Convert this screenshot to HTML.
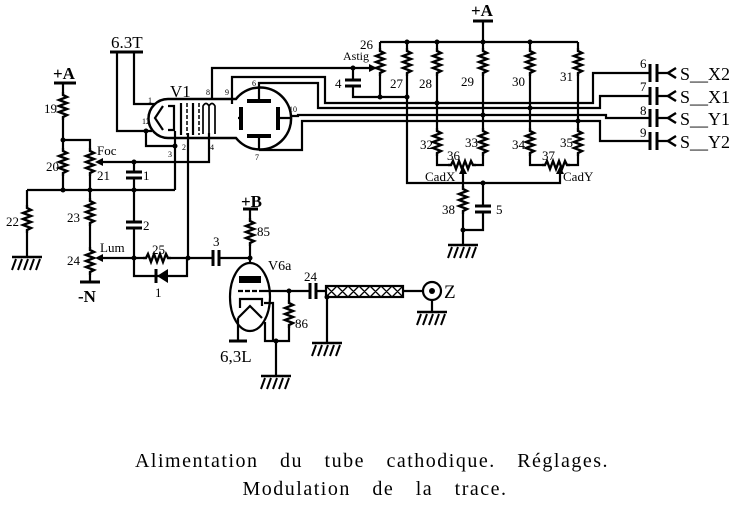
<!DOCTYPE html>
<html><head><meta charset="utf-8"><style>
html,body{margin:0;padding:0;background:#fff;}
svg{display:block;}
text{font-family:"Liberation Serif",serif;fill:#000;}
.l{font-size:13px;}
</style></head><body>
<svg width="740" height="508" viewBox="0 0 740 508" xmlns="http://www.w3.org/2000/svg">
<defs>
<path id="rv" d="M0,0 l0,3 l4,2 l-8,3 l8,3 l-8,3 l8,3 l-8,3 l8,3 l-4,2 l0,3" fill="none" stroke="#000" stroke-width="2.4"/>
<g id="gnd" stroke="#000" stroke-width="2" fill="none"><path d="M-15,0 H15" stroke-width="2.5"/><path d="M-11,2 l-4,11 M-5,2 l-4,11 M1,2 l-4,11 M7,2 l-4,11 M13,2 l-4,11"/></g>
<path id="au" d="M0,0 l-4,8 h8 z" fill="#000"/>
</defs>
<g stroke="#000" stroke-width="2.2" fill="none">
<path d="M110,52 H143" stroke-width="3"/>
<path d="M117,52 V131 H152 M134,52 V104 H155"/>
<path d="M146,131 V146 H175 M175,131 V190 M188,133 V258 M209,133 V162 H98"/>
<path d="M54,83 H76" stroke-width="3"/>
<path d="M63,83 V92 M63,120 V148 M63,176 V190 M63,140 H90 V148 M90,176 V198 M90,226 V247 M90,275 V282"/>
<path d="M80,282 H100" stroke-width="3"/>
<path d="M27,190 H175 M27,190 V205 M27,233 V257"/>
<path d="M134,162 V172 M134,178 V222 M134,228 V258 H143 M171,258 H213 M219,258 H250 M134,258 H98"/>
<path d="M126,172 H142 M126,178 H142 M126,222 H142 M126,228 H142 M213,250 V266 M219,250 V266" stroke-width="3"/>
<path d="M134,258 V276 H187 V258"/>
<path d="M156,269 V283" stroke-width="3"/>
<path d="M243,209 H258" stroke-width="3"/>
<path d="M250,209 V218 M250,246 V263"/>
<ellipse cx="250" cy="297" rx="20" ry="34"/>
<path d="M238,291 H262" stroke-dasharray="5,2"/>
<path d="M262,291 H310 M240,308 V299 H262 V306 M238,318 L250,306 L262,318 M238,318 V341 M264,303 H273 V341 M265,322 V341 H289 V328 M289,291 V300 M276,341 V376"/>
<path d="M229,341 H247" stroke-width="3"/>
<path d="M310,283 V299 M316,283 V299" stroke-width="3"/>
<path d="M316,291 H326 M327,297 V343 M403,291 H423 M432,300 V312"/>
<rect x="326" y="286" width="77" height="11" stroke-width="2.2"/>
<path d="M326,286 l11,11 m0,-11 l-11,11 M337,286 l11,11 m0,-11 l-11,11 M348,286 l11,11 m0,-11 l-11,11 M359,286 l11,11 m0,-11 l-11,11 M370,286 l11,11 m0,-11 l-11,11 M381,286 l11,11 m0,-11 l-11,11 M392,286 l11,11 m0,-11 l-11,11" stroke-width="1.3"/>
<circle cx="432" cy="291" r="9"/>
<path d="M168,99 H236 A31,31 0 1 1 236,138 H168 A19.5,19.5 0 0 1 168,99 Z" stroke-width="2.5"/>
<path d="M163,106 L155,118 L163,130 M168,106 H174 V130 H168"/>
<path d="M181,103 V135 M193,103 V135"/>
<path d="M187,103 V135 M199,103 V135" stroke-dasharray="4,2" stroke-width="1.5"/>
<path d="M203,134 V106 Q206,101 209,106 V134 M209,106 Q212,101 215,106 V134" stroke-width="1.7"/>
<path d="M247,101 H271 M247,136 H271" stroke-width="4"/>
<path d="M241,107 V130 M278,107 V130" stroke-width="4"/>
<path d="M259,101 V88 M259,136 V150 M242,118 H238 M278,118 H290"/>
<path d="M212,99 V68 H376 M353,68 V80 M353,86 V97 H407"/>
<path d="M345,80 H361 M345,86 H361" stroke-width="3"/>
<path d="M232,104 V77 H325 V103 H593 V73 H650"/>
<path d="M259,88 V83 H318 V108 H600 V96 H650"/>
<path d="M290,116 H298 V115 H606 V118 H650"/>
<path d="M259,150 H302 V121 H600 V141 H650"/>
<path d="M473,21 H493" stroke-width="3"/>
<path d="M483,21 V42 M380,42 H578"/>
<path d="M380,42 V48 M380,76 V97"/>
<path d="M407,42 V48 M407,76 V183 H560 V170"/>
<path d="M437,42 V48 M437,76 V128 M437,156 V165 H448 M476,165 H483 V156 M483,42 V48 M483,76 V128"/>
<path d="M530,42 V48 M530,76 V128 M530,156 V165 H542 M570,165 H578 V156 M578,42 V48 M578,76 V128"/>
<path d="M463,183 V170 M463,183 V186 M463,214 V230 H483 V212 M483,206 V183 M463,230 V245"/>
<path d="M475,206 H491 M475,212 H491" stroke-width="3"/>
<path d="M650,64 V82 M657,64 V82 M650,87 V105 M657,87 V105 M650,109 V127 M657,109 V127 M650,132 V150 M657,132 V150" stroke-width="3"/>
<path d="M657,73 H668 M657,96 H668 M657,118 H668 M657,141 H668"/>
<path d="M676,68 L668,73 L676,78 M676,91 L668,96 L676,101 M676,113 L668,118 L676,123 M676,136 L668,141 L676,146" stroke-width="2.5"/>
</g>
<use href="#rv" x="63" y="92"/><use href="#rv" x="63" y="148"/><use href="#rv" x="90" y="148"/>
<use href="#rv" x="27" y="205"/><use href="#rv" x="90" y="198"/><use href="#rv" x="90" y="247"/>
<use href="#rv" transform="translate(143,258) rotate(-90)"/>
<use href="#rv" x="250" y="218"/><use href="#rv" x="289" y="300"/>
<use href="#rv" x="380" y="48"/><use href="#rv" x="407" y="48"/><use href="#rv" x="437" y="48"/>
<use href="#rv" x="483" y="48"/><use href="#rv" x="530" y="48"/><use href="#rv" x="578" y="48"/>
<use href="#rv" x="437" y="128"/><use href="#rv" x="483" y="128"/><use href="#rv" x="530" y="128"/><use href="#rv" x="578" y="128"/>
<use href="#rv" transform="translate(448,165) rotate(-90)"/><use href="#rv" transform="translate(542,165) rotate(-90)"/>
<use href="#rv" x="463" y="186"/>
<use href="#gnd" x="27" y="257"/><use href="#gnd" x="276" y="376"/><use href="#gnd" x="327" y="343"/>
<use href="#gnd" x="432" y="312"/><use href="#gnd" x="463" y="245"/>
<g fill="#000">
<path d="M95,162 l8,-4 v8 z M95,258 l8,-4 v8 z M377,68 l-8,-4 v8 z"/>
<use href="#au" x="463" y="166"/><use href="#au" x="560" y="166"/>
<path d="M157,276 L168,269 V283 Z"/>
<rect x="239" y="276" width="22" height="7"/>
<circle cx="432" cy="291" r="3"/>
<circle cx="63" cy="140" r="2.5"/><circle cx="63" cy="190" r="2.5"/><circle cx="90" cy="190" r="2.5"/>
<circle cx="134" cy="190" r="2.5"/><circle cx="134" cy="162" r="2.5"/><circle cx="134" cy="258" r="2.5"/>
<circle cx="188" cy="258" r="2.5"/><circle cx="250" cy="258" r="2.5"/><circle cx="289" cy="291" r="2.5"/>
<circle cx="276" cy="341" r="2.5"/><circle cx="327" cy="297" r="2.5"/><circle cx="146" cy="131" r="2.5"/>
<circle cx="175" cy="146" r="2.5"/><circle cx="353" cy="68" r="2.5"/><circle cx="380" cy="97" r="2.5"/>
<circle cx="407" cy="97" r="2.5"/><circle cx="407" cy="42" r="2.5"/><circle cx="437" cy="42" r="2.5"/>
<circle cx="483" cy="42" r="2.5"/><circle cx="530" cy="42" r="2.5"/><circle cx="437" cy="103" r="2.5"/>
<circle cx="483" cy="115" r="2.5"/><circle cx="530" cy="108" r="2.5"/><circle cx="578" cy="121" r="2.5"/>
<circle cx="483" cy="183" r="2.5"/><circle cx="463" cy="230" r="2.5"/>
</g>
<text x="111" y="48" font-size="17">6.3T</text>
<text x="53" y="79" font-size="17" font-weight="bold">+A</text>
<text x="241" y="207" font-size="17" font-weight="bold">+B</text>
<text x="471" y="16" font-size="17" font-weight="bold">+A</text>
<text x="78" y="302" font-size="17" font-weight="bold">-N</text>
<text x="170" y="97" font-size="17">V1</text>
<text x="268" y="270" font-size="14">V6a</text>
<text x="220" y="362" font-size="17">6,3L</text>
<text x="444" y="298" font-size="19">Z</text>
<g class="l">
<text x="44" y="113">19</text><text x="46" y="171">20</text><text x="97" y="180">21</text><text x="97" y="155">Foc</text>
<text x="6" y="226">22</text><text x="67" y="222">23</text><text x="67" y="265">24</text>
<text x="100" y="252">Lum</text><text x="152" y="254">25</text><text x="155" y="297">1</text>
<text x="143" y="180">1</text><text x="143" y="230">2</text><text x="213" y="246">3</text>
<text x="257" y="236">85</text><text x="295" y="328">86</text><text x="304" y="281">24</text>
<text x="335" y="88">4</text><text x="343" y="60" font-size="12">Astig</text><text x="360" y="49">26</text>
<text x="390" y="88">27</text><text x="419" y="88">28</text><text x="461" y="86">29</text>
<text x="512" y="86">30</text><text x="560" y="81">31</text>
<text x="420" y="149">32</text><text x="465" y="147">33</text><text x="512" y="149">34</text><text x="560" y="147">35</text>
<text x="447" y="160">36</text><text x="542" y="160">37</text>
<text x="425" y="181">CadX</text><text x="563" y="181">CadY</text>
<text x="442" y="214">38</text><text x="496" y="214">5</text>
<text x="640" y="68">6</text><text x="640" y="91">7</text><text x="640" y="115">8</text><text x="640" y="137">9</text>
</g>
<g font-size="8">
<text x="148" y="103">1</text><text x="142" y="124">12</text><text x="168" y="157">3</text><text x="182" y="150">2</text>
<text x="210" y="150">4</text><text x="206" y="95">8</text><text x="225" y="95">9</text><text x="252" y="86">6</text>
<text x="289" y="112">10</text><text x="255" y="160">7</text>
</g>
<g font-size="18">
<text x="680" y="80">S__X2</text><text x="680" y="103">S__X1</text><text x="680" y="125">S__Y1</text><text x="680" y="148">S__Y2</text>
</g>
<text x="372" y="467" font-size="20" text-anchor="middle" letter-spacing="1.5" word-spacing="15">Alimentation du tube cathodique. Réglages.</text>
<text x="375" y="495" font-size="20" text-anchor="middle" letter-spacing="1.5" word-spacing="15">Modulation de la trace.</text>
</svg>
</body></html>
